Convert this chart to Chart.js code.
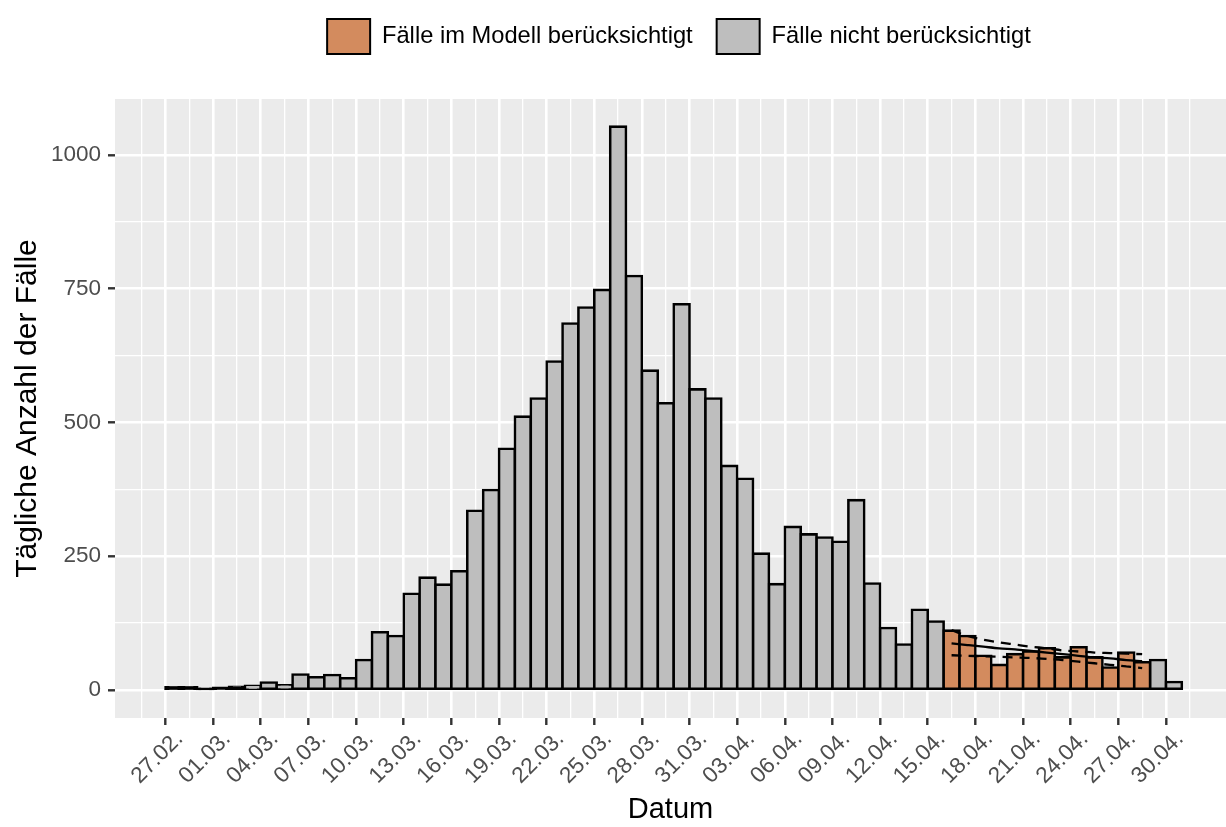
<!DOCTYPE html>
<html lang="de">
<head>
<meta charset="utf-8">
<title>Tägliche Anzahl der Fälle</title>
<script src="https://cdn.jsdelivr.net/npm/chart.js@4.4.1/dist/chart.umd.min.js"></script>
<style>
    html, body { margin: 0; padding: 0; background: #ffffff; }
    #casesChart { display: block; }
</style>
</head>
<body>
<canvas id="casesChart" width="1226" height="827"></canvas>
<script>
// Daily cases, index 0 = 27.02., index 63 = 30.04.
const dailyCases = [
    5, 5, 2, 4, 6, 8, 14, 9, 29, 24,
    28, 22, 56, 108, 101, 180, 210, 197, 222, 335,
    374, 451, 511, 545, 614, 685, 715, 748, 1053, 774,
    597, 536, 721, 562, 545, 419, 395, 255, 198, 305,
    291, 285, 277, 355, 199, 116, 85, 150, 128, 111,
    101, 64, 47, 67, 72, 78, 61, 80, 61, 42,
    70, 52, 56, 15
];

// Days used in the model (16.04. - 28.04.)
const modelFirstDay = 49;
const modelLastDay = 61;

// Model fit and interval, one value per model day
const fitMid = [87, 84, 81, 78, 76, 73, 70, 67, 64, 61, 59, 56, 54];
const fitUpper = [112, 101, 94, 89, 85, 81, 78, 74, 72, 70, 69, 68, 67];
const fitLower = [65, 64, 63, 62, 61, 60, 58, 56, 53, 50, 47, 44, 41];

// Tick labels, one every 3 days starting at 27.02.
const dateTickLabels = [
    '27.02.', '01.03.', '04.03.', '07.03.', '10.03.', '13.03.', '16.03.', '19.03.',
    '22.03.', '25.03.', '28.03.', '31.03.', '03.04.', '06.04.', '09.04.', '12.04.',
    '15.04.', '18.04.', '21.04.', '24.04.', '27.04.', '30.04.'
];
const yTickValues = [0, 250, 500, 750, 1000];

const legendLabels = ['Fälle im Modell berücksichtigt', 'Fälle nicht berücksichtigt'];

const FONT = "'Liberation Sans', Arial, Helvetica, sans-serif";
const ORANGE = '#D38B5E';
const GREY = '#BEBEBE';
const BAR_LINE = 2.6;

// bars span a whole day: [day, day + 1]
const isModelDay = (i) => i >= modelFirstDay && i <= modelLastDay;
const modelBars = [];
const otherBars = [];
dailyCases.forEach((v, i) => {
    const point = { x: i + 0.5, y: v };
    if (isModelDay(i)) modelBars.push(point); else otherBars.push(point);
});
const toLine = (values) => values.map((v, k) => ({ x: modelFirstDay + k + 0.5, y: v }));

// grid: majors every 3 days, minors in between
const xGrid = [];
for (let k = -2; k <= 44; k++) xGrid.push(k * 1.5);
const yGrid = [];
yTickValues.forEach((v, i) => {
    yGrid.push(v);
    if (i < yTickValues.length - 1) yGrid.push((v + yTickValues[i + 1]) / 2);
});

const isMajorX = (ctx) => !!ctx.tick && ctx.tick.value % 3 === 0;
const isMajorY = (ctx) => !!ctx.tick && yTickValues.includes(ctx.tick.value);

// a bar lower than its outline is covered by the outline in ggplot
const barFill = (color) => (ctx) => {
    const y = ctx.chart.scales.y;
    if (!ctx.raw || !y) return color;
    return y.getPixelForValue(0) - y.getPixelForValue(ctx.raw.y) < BAR_LINE * 1.5 ? '#000000' : color;
};

const panelPlugin = {
    id: 'panelBackground',
    beforeInit(chart) {
        const fit = chart.legend.fit;
        chart.legend.fit = function () {
            fit.call(this);
            this.height = 99;
        };
    },
    afterLayout(chart) {
        // legend sits right of the canvas centre, like in ggplot
        chart.legend.left += 132;
        chart.legend.top -= 5;
    },
    beforeDraw(chart) {
        const { ctx, chartArea } = chart;
        ctx.save();
        ctx.fillStyle = '#EBEBEB';
        ctx.fillRect(chartArea.left, chartArea.top, chartArea.right - chartArea.left, chartArea.bottom - chartArea.top);
        ctx.restore();
    }
};

// inflateAmount pushes the outline half outside the bar, as ggplot strokes do
const barDefaults = {
    type: 'bar',
    borderColor: '#000000',
    borderWidth: BAR_LINE,
    borderSkipped: false,
    inflateAmount: BAR_LINE / 2,
    grouped: false,
    barPercentage: 1,
    categoryPercentage: 1
};

const lineDefaults = {
    type: 'line',
    borderColor: '#000000',
    borderWidth: 2.3,
    pointRadius: 0,
    fill: false,
    cubicInterpolationMode: 'monotone',
    order: -1
};

new Chart(document.getElementById('casesChart'), {
    type: 'bar',
    data: {
        datasets: [
            { ...barDefaults, label: legendLabels[0], data: modelBars, backgroundColor: barFill(ORANGE) },
            { ...barDefaults, label: legendLabels[1], data: otherBars, backgroundColor: barFill(GREY) },
            { ...lineDefaults, label: 'fit', data: toLine(fitMid) },
            { ...lineDefaults, label: 'upper', data: toLine(fitUpper), borderDash: [10, 7] },
            { ...lineDefaults, label: 'lower', data: toLine(fitLower), borderDash: [10, 7] }
        ]
    },
    options: {
        responsive: false,
        animation: false,
        devicePixelRatio: 1,
        layout: { padding: 0 },
        plugins: {
            tooltip: { enabled: false },
            legend: {
                position: 'top',
                labels: {
                    generateLabels: () => [ORANGE, GREY].map((color, i) => ({
                        text: legendLabels[i],
                        fillStyle: color,
                        strokeStyle: '#000000',
                        lineWidth: 2,
                        fontColor: '#000000',
                        hidden: false,
                        datasetIndex: i
                    })),
                    boxWidth: 43,
                    boxHeight: 35,
                    padding: 24,
                    color: '#000000',
                    font: { family: FONT, size: 23.7 }
                }
            }
        },
        scales: {
            x: {
                type: 'linear',
                offset: false,
                min: -3.18,
                max: 66.78,
                afterBuildTicks: (scale) => { scale.ticks = xGrid.map(v => ({ value: v })); },
                afterFit: (scale) => { scale.height = 109; },
                border: { display: false },
                grid: {
                    offset: false,
                    color: '#FFFFFF',
                    lineWidth: (ctx) => isMajorX(ctx) ? 2.6 : 1.3,
                    tickColor: (ctx) => isMajorX(ctx) ? '#333333' : 'rgba(0,0,0,0)',
                    tickWidth: 2.4,
                    tickLength: 7
                },
                ticks: {
                    autoSkip: false,
                    minRotation: 45,
                    maxRotation: 45,
                    padding: 1,
                    labelOffset: 14,
                    color: '#4D4D4D',
                    font: { family: FONT, size: 22.5 },
                    callback: (v) => v % 3 === 0 ? dateTickLabels[v / 3] : ''
                },
                title: {
                    display: true,
                    text: 'Datum',
                    color: '#000000',
                    font: { family: FONT, size: 29 },
                    padding: { top: 0, bottom: 0 }
                }
            },
            y: {
                min: -52.3,
                max: 1104.7,
                afterBuildTicks: (scale) => { scale.ticks = yGrid.map(v => ({ value: v })); },
                afterFit: (scale) => { scale.width = 115; },
                border: { display: false },
                grid: {
                    color: '#FFFFFF',
                    lineWidth: (ctx) => isMajorY(ctx) ? 2.6 : 1.3,
                    tickColor: (ctx) => isMajorY(ctx) ? '#333333' : 'rgba(0,0,0,0)',
                    tickWidth: 2.4,
                    tickLength: 7
                },
                ticks: {
                    padding: 7,
                    color: '#4D4D4D',
                    font: { family: FONT, size: 22.5 },
                    callback: (v) => yTickValues.includes(v) ? String(v) : ''
                },
                title: {
                    display: true,
                    text: 'Tägliche Anzahl der Fälle',
                    color: '#000000',
                    font: { family: FONT, size: 30 },
                    padding: { top: 10, bottom: 0 }
                }
            }
        }
    },
    plugins: [panelPlugin]
});
</script>
</body>
</html>
